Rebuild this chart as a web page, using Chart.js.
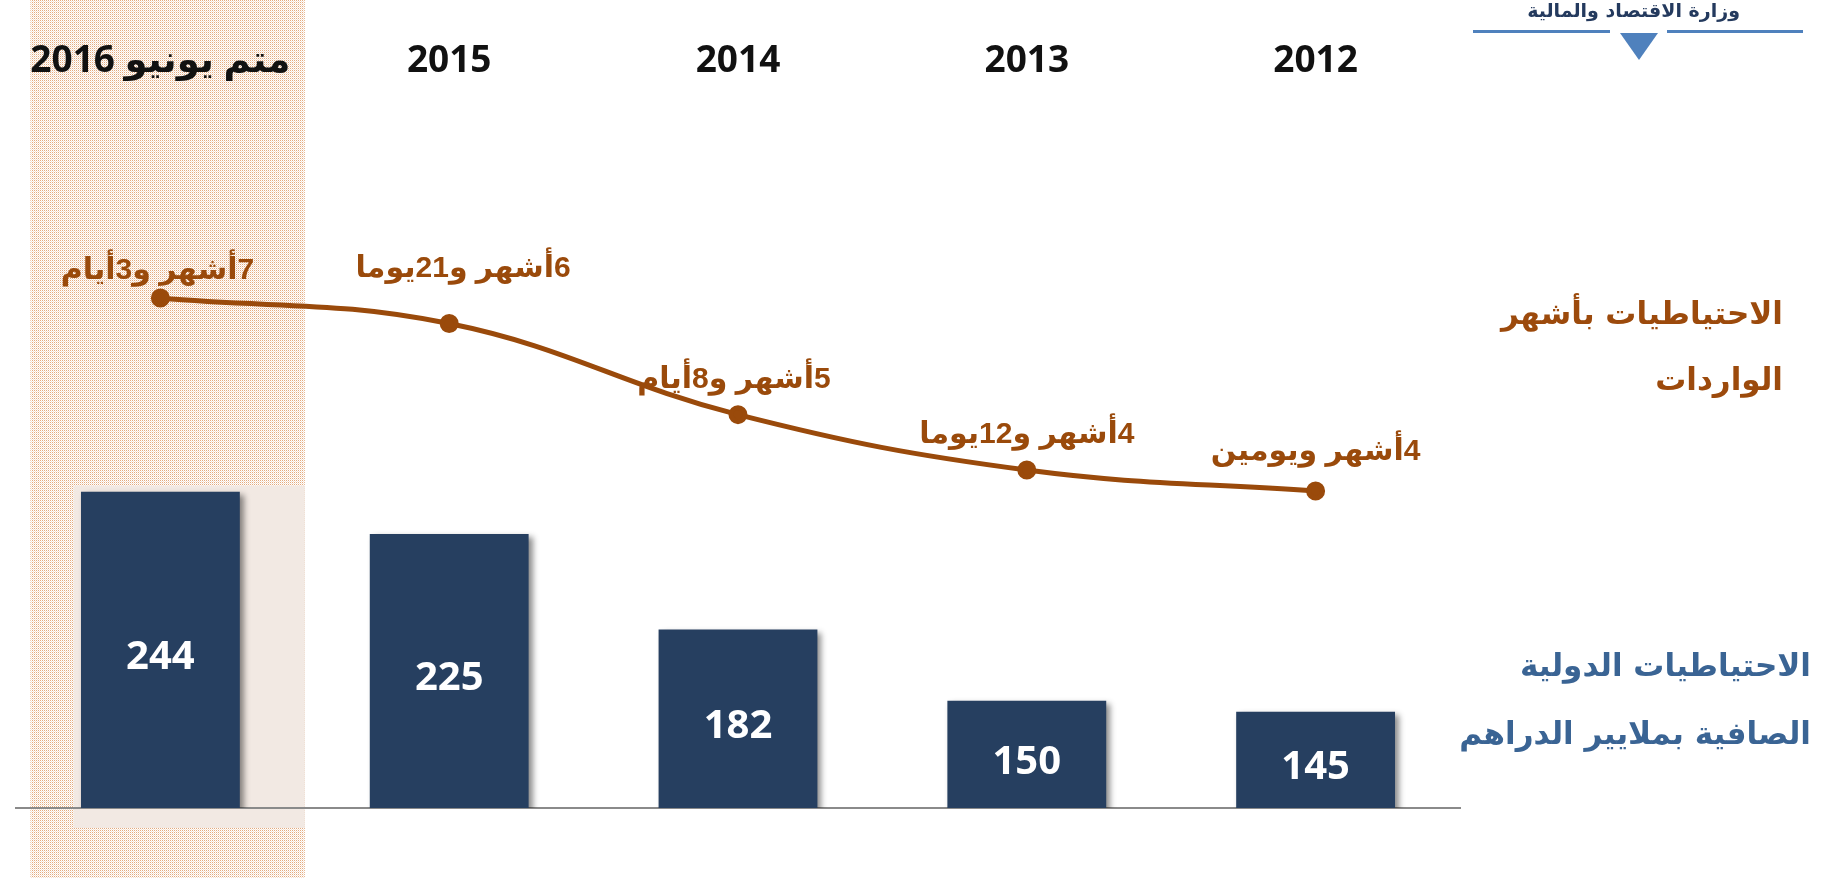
<!DOCTYPE html>
<html lang="ar">
<head>
<meta charset="utf-8">
<script src="https://cdn.jsdelivr.net/npm/chart.js@4.4.1/dist/chart.umd.min.js"></script>
<style>
  html, body { margin: 0; padding: 0; background: #fff; }
  #wrap { position: relative; width: 1830px; height: 878px; overflow: hidden; }
  #chart { position: absolute; left: 0; top: 0; }
  .side { position: absolute; direction: rtl; text-align: right; font-family: "DejaVu Sans", sans-serif; font-weight: bold; white-space: nowrap; }
  #months { right: 47px; top: 280px; font-size: 31px; line-height: 66px; color: #9c4a0c; }
  #reserves { right: 19px; top: 631px; font-size: 31px; line-height: 68px; color: #3a6494; }
  #ministry { right: 90px; top: -3px; font-size: 19px; line-height: 26px; color: #243a5e; }
  .rule { position: absolute; top: 30px; height: 3px; background: #4f81bd; }
  #tri { position: absolute; left: 1620px; top: 33px; width: 0; height: 0;
         border-left: 19px solid transparent; border-right: 19px solid transparent; border-top: 27px solid #4f81bd; }
</style>
</head>
<body>
<div id="wrap">
  <canvas id="chart" width="1830" height="878" dir="rtl"></canvas>
  <div class="side" id="ministry">وزارة الاقتصاد والمالية</div>
  <div class="rule" style="left:1473px;width:137px"></div>
  <div class="rule" style="left:1667px;width:136px"></div>
  <div id="tri"></div>
  <div class="side" id="months">الاحتياطيات بأشهر<br>الواردات</div>
  <div class="side" id="reserves">الاحتياطيات الدولية<br>الصافية بملايير الدراهم</div>
</div>
<script>
// categories as drawn, left to right
const periods = ['متم يونيو 2016', '2015', '2014', '2013', '2012'];
// net international reserves, billions of dirhams
const reserves = [244, 225, 182, 150, 145];
// reserves in months of imports (months + days/30)
const importMonths = [7.1, 6.7, 5.27, 4.4, 4.07];
const importLabels = ['7أشهر و3أيام', '6أشهر و21يوما', '5أشهر و8أيام', '4أشهر و12يوما', '4أشهر ويومين'];

const BAR = '#263f60';
const BROWN = '#9a4a0b';

// dotted band behind the current period
function dotPattern(ctx) {
    const c = document.createElement('canvas');
    c.width = 2; c.height = 2;
    const p = c.getContext('2d');
    p.fillStyle = '#ffffff';
    p.fillRect(0, 0, 2, 2);
    p.fillStyle = '#e4aa7e';
    p.fillRect(0, 0, 1, 1);
    p.fillStyle = '#f5e2d3';
    p.fillRect(1, 1, 1, 1);
    return ctx.createPattern(c, 'repeat');
}

const bandPlugin = {
    id: 'band',
    beforeDraw(chart) {
        const { ctx, scales: { x, y } } = chart;
        const c0 = x.getPixelForValue(0);
        const step = x.getPixelForValue(1) - c0;
        ctx.save();
        ctx.fillStyle = dotPattern(ctx);
        ctx.fillRect(c0 - 0.45 * step, 0, 0.95 * step, chart.height);
        ctx.fillStyle = '#f2e9e3';
        const top = y.getPixelForValue(reserves[0]) - 6;
        ctx.fillRect(c0 - 0.3 * step, top, 0.8 * step, y.bottom + 20 - top);
        ctx.restore();
    }
};

const shadowPlugin = {
    id: 'barShadow',
    beforeDatasetDraw(chart, args) {
        if (args.meta.type !== 'bar') return;
        const ctx = chart.ctx;
        ctx.save();
        ctx.shadowColor = 'rgba(0,0,0,0.45)';
        ctx.shadowBlur = 6;
        ctx.shadowOffsetX = 4;
        ctx.shadowOffsetY = 3;
    },
    afterDatasetDraw(chart, args) {
        if (args.meta.type !== 'bar') return;
        chart.ctx.restore();
    }
};

const labelPlugin = {
    id: 'valueLabels',
    afterDatasetsDraw(chart, args, opts) {
        const ctx = chart.ctx;
        const floor = chart.scales.y.bottom;
        ctx.save();
        ctx.textAlign = 'center';
        ctx.textBaseline = 'middle';
        chart.data.datasets.forEach((ds, i) => {
            const meta = chart.getDatasetMeta(i);
            meta.data.forEach((el, j) => {
                if (meta.type === 'bar') {
                    ctx.fillStyle = '#ffffff';
                    ctx.font = 'bold 40px "Open Sans", "DejaVu Sans", sans-serif';
                    ctx.fillText(String(ds.data[j]), el.x, (el.y + floor) / 2 + 8);
                } else {
                    ctx.fillStyle = BROWN;
                    ctx.font = 'bold 30px "Liberation Sans", "DejaVu Sans", sans-serif';
                    ctx.fillText(importLabels[j], el.x + (opts.shift[j] || 0), el.y - opts.lift[j]);
                }
            });
        });
        ctx.restore();
    }
};

new Chart(document.getElementById('chart'), {
    data: {
        labels: periods,
        datasets: [
            {
                type: 'line',
                data: importMonths,
                yAxisID: 'y1',
                order: 0,
                borderColor: BROWN,
                borderWidth: 5,
                backgroundColor: BROWN,
                pointBackgroundColor: BROWN,
                pointBorderColor: BROWN,
                pointRadius: 7,
                tension: 0.4,
                fill: false
            },
            {
                type: 'bar',
                data: reserves,
                yAxisID: 'y',
                order: 1,
                backgroundColor: BAR,
                borderWidth: 0,
                categoryPercentage: 1,
                barPercentage: 0.55
            }
        ]
    },
    options: {
        responsive: false,
        animation: false,
        layout: { padding: { left: 16, right: 370, top: 20, bottom: 70 } },
        plugins: {
            legend: { display: false },
            tooltip: { enabled: false },
            valueLabels: { lift: [27, 55, 35, 35, 39], shift: [-3, 14, -4, 0, 0] }
        },
        scales: {
            x: {
                position: 'top',
                grid: { display: false },
                border: { display: false },
                afterFit: (axis) => { axis.height = 80; },
                ticks: {
                    autoSkip: false,
                    maxRotation: 0,
                    padding: 8,
                    color: '#111111',
                    font: { family: '"Open Sans", "DejaVu Sans", sans-serif', size: 37, weight: 'bold' }
                }
            },
            xb: {
                position: 'bottom',
                grid: { display: false },
                ticks: { display: false },
                afterFit: (axis) => { axis.height = 0; },
                border: { display: true, color: '#8a8a8a', width: 2 }
            },
            y: {
                display: false,
                min: 101.7,
                max: 420.3
            },
            y1: {
                display: false,
                min: -0.906,
                max: 10.21
            }
        }
    },
    plugins: [bandPlugin, shadowPlugin, labelPlugin]
});
</script>
</body>
</html>
